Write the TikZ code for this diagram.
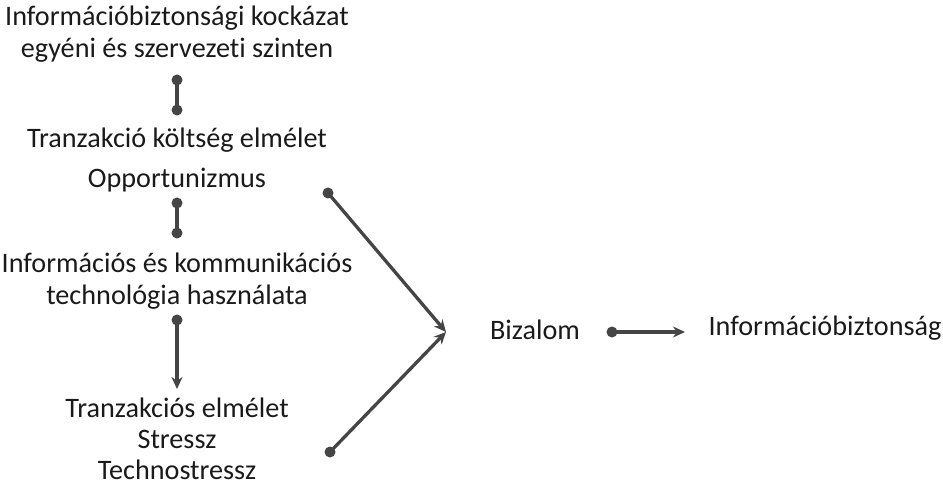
\documentclass[tikz,border=0pt]{standalone}
\usepackage{fontspec}
\setmainfont{Carlito}[Ligatures={NoCommon,NoRare,NoContextual}]
\usetikzlibrary{arrows.meta}
\definecolor{linec}{HTML}{454545}
\definecolor{txtc}{HTML}{1A1A1A}
\tikzset{
  lbl/.style={text=txtc, font=\fontsize{28.2}{32}\selectfont, align=center, inner sep=0pt},
  conn/.style={draw=linec, line width=3.3pt},
  dotc/.style={circle, fill=linec, inner sep=0pt, minimum size=11pt},
  tip/.style={-{Stealth[length=12pt,width=11pt]}},
}
\begin{document}
\begin{tikzpicture}[x=1pt,y=-1pt]
\useasboundingbox (0,0) rectangle (943,489);
\node[lbl] (t1) at (177,34) {Információbiztonsági kockázat\\egyéni és szervezeti szinten};
\node[lbl] (t2) at (177,140) {Tranzakció költség elmélet};
\node[lbl] (t3) at (177,180) {Opportunizmus};
\node[lbl] (t4) at (177,281) {Információs és kommunikációs\\technológia használata};
\node[lbl] (t5) at (177,408) {Tranzakciós elmélet};
\node[lbl] (t6) at (177,439) {Stressz};
\node[lbl] (t7) at (177,470) {Technostressz};
\node[lbl] (biz) at (535,330) {Bizalom};
\node[lbl] (inf) at (825,328) {Információbiztonság};

\node[dotc] (a1) at (177,80) {};
\node[dotc] (a2) at (177,110) {};
\node[dotc] (b1) at (177,203) {};
\node[dotc] (b2) at (177,233) {};
\node[dotc] (c1) at (177,320) {};
\coordinate (c2) at (177,389);
\node[dotc] (d1) at (328,193) {};
\node[dotc] (e1) at (330,452) {};
\coordinate (m) at (446,332);
\node[dotc] (f1) at (612,332) {};
\coordinate (f2) at (685,332);

\draw[conn] (a1.center) -- (a2.center);
\draw[conn] (b1.center) -- (b2.center);
\draw[conn,tip] (c1.center) -- (c2);
\draw[conn,tip] (d1.center) -- (m);
\draw[conn,tip] (e1.center) -- (m);
\draw[conn,tip] (f1.center) -- (f2);
\end{tikzpicture}
\end{document}
